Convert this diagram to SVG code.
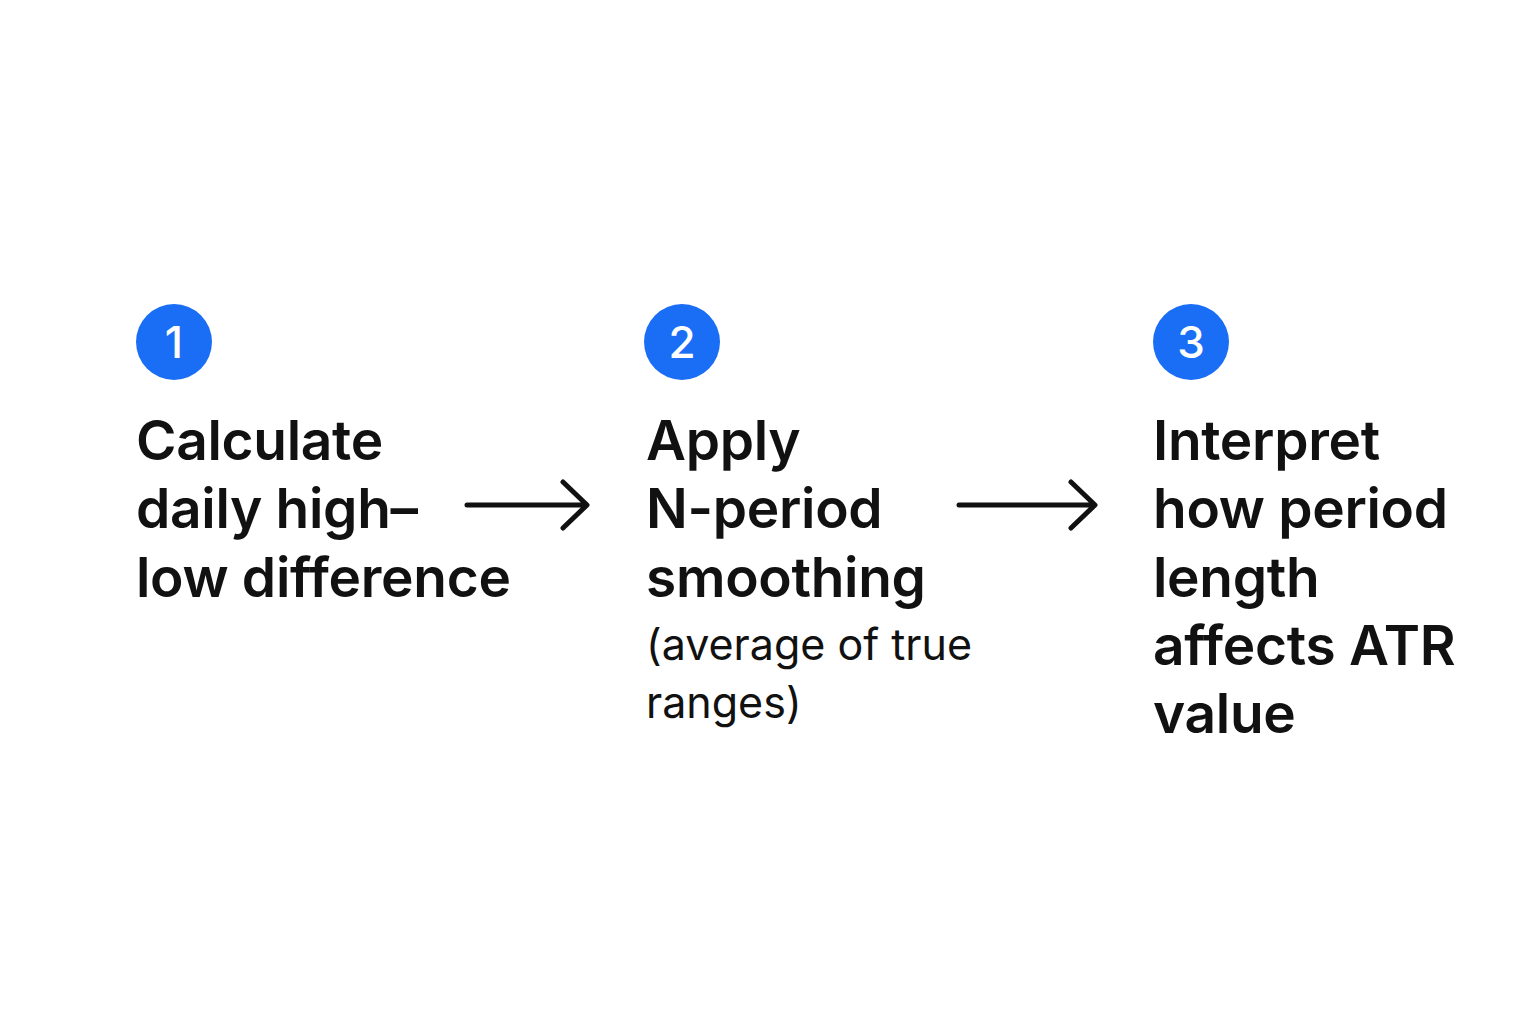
<svg xmlns="http://www.w3.org/2000/svg" width="1536" height="1024" viewBox="0 0 1536 1024">
<style>
.t{font-family:Inter,"Liberation Sans",sans-serif;font-size:55px;font-weight:600;fill:#111;letter-spacing:-0.3px}
.s{font-family:Inter,"Liberation Sans",sans-serif;font-size:43px;font-weight:400;fill:#111}
.b{fill:#1a6ef5}
.n{font-family:Inter,"Liberation Sans",sans-serif;font-size:44px;font-weight:500;fill:#fff;text-anchor:middle}
.a{stroke:#111;stroke-width:5;fill:none;stroke-linecap:round;stroke-linejoin:round}
</style>
<rect width="1536" height="1024" fill="#fff"/>
<g id="step1">
<circle class="b" cx="174" cy="342" r="38"/><text class="n" x="174" y="358">1</text>
<text class="t" x="136" y="460">Calculate</text>
<text class="t" x="136" y="528">daily high–</text>
<text class="t" x="136" y="597">low difference</text>
</g>
<g id="step2">
<circle class="b" cx="682" cy="342" r="38"/><text class="n" x="682" y="358">2</text>
<text class="t" x="646" y="460">Apply</text>
<text class="t" x="646" y="528">N-period</text>
<text class="t" x="646" y="597">smoothing</text>
<text class="s" x="646" y="660">(average of true</text>
<text class="s" x="646" y="718">ranges)</text>
</g>
<g id="step3">
<circle class="b" cx="1191" cy="342" r="38"/><text class="n" x="1191" y="358">3</text>
<text class="t" x="1153" y="460">Interpret</text>
<text class="t" x="1153" y="528">how period</text>
<text class="t" x="1153" y="597">length</text>
<text class="t" x="1153" y="665">affects ATR</text>
<text class="t" x="1153" y="733">value</text>
</g>
<g id="connectors">
<path class="a" d="M467 505H586M563 482L587 505L563 528"/>
<path class="a" d="M959 505H1094M1071 482L1095 505L1071 528"/>
</g>
</svg>
